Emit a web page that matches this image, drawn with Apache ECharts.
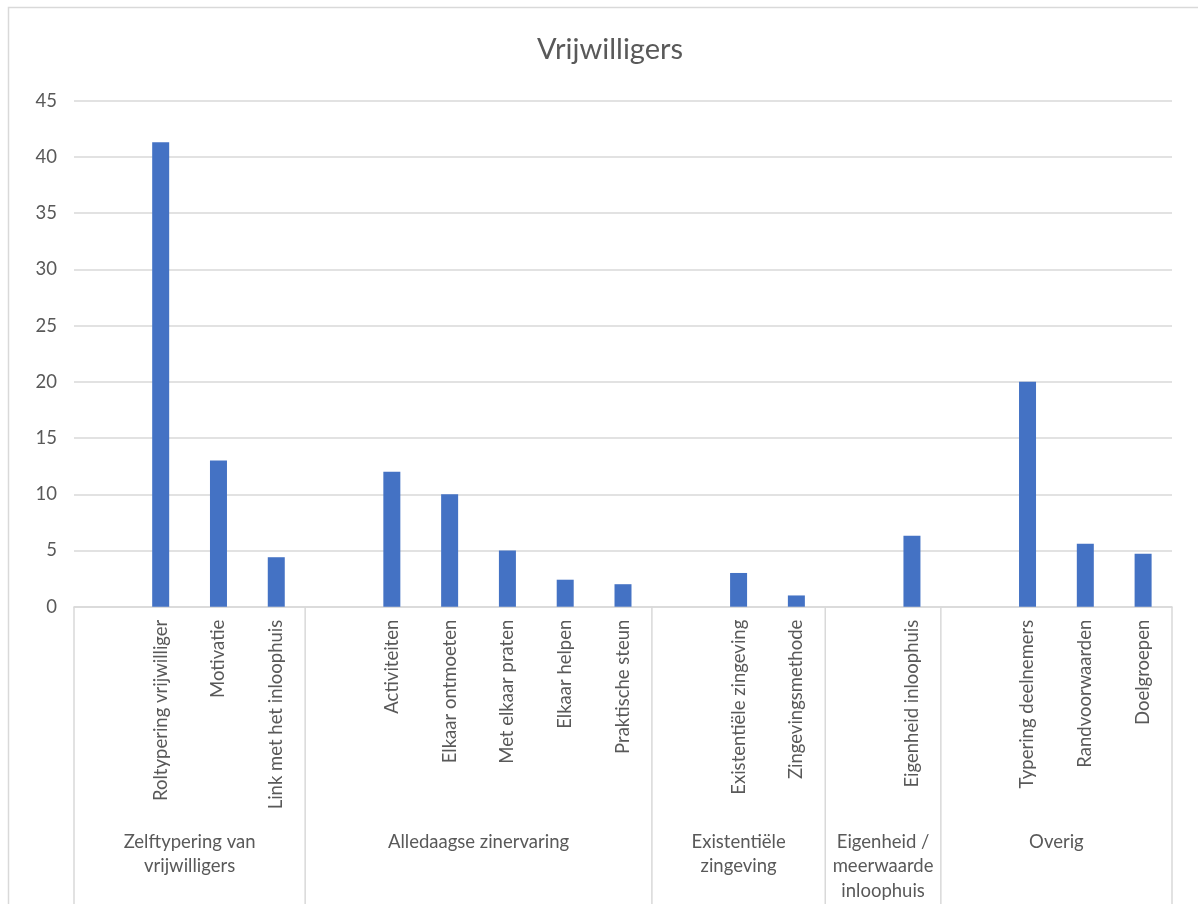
<!DOCTYPE html>
<html>
<head>
<meta charset="utf-8">
<script src="https://cdn.jsdelivr.net/npm/echarts@6/dist/echarts.min.js"></script>
<style>
html,body{margin:0;padding:0;background:#fff;}
#chart{width:1198px;height:904px;}
</style>
</head>
<body>
<div id="chart"></div>
<script>
const titleText = 'Vrijwilligers';
const categories = [
  '', 'Roltypering vrijwilliger', 'Motivatie', 'Link met het inloophuis',
  '', 'Activiteiten', 'Elkaar ontmoeten', 'Met elkaar praten', 'Elkaar helpen', 'Praktische steun',
  '', 'Existentiële zingeving', 'Zingevingsmethode',
  '', 'Eigenheid inloophuis',
  '', 'Typering deelnemers', 'Randvoorwaarden', 'Doelgroepen'
];
const values = [
  null, 41.3, 13, 4.4,
  null, 12, 10, 5, 2.4, 2,
  null, 3, 1,
  null, 6.3,
  null, 20, 5.6, 4.7
];
const groupNames = [
  'Zelftypering van\nvrijwilligers',
  'Alledaagse zinervaring',
  'Existentiële\nzingeving',
  'Eigenheid /\nmeerwaarde\ninloophuis',
  'Overig'
];
const groupSizes = [4, 6, 3, 2, 4];
const yTicks = { min: 0, max: 45, interval: 5 };

const FONT = 'Lato, "Open Sans", sans-serif';
const TXT = '#595959';
const LINE = '#d9d9d9';

// group ranges [startIndex, endIndex]
const groupData = [];
let s = 0;
groupSizes.forEach((n, i) => {
  groupData.push({ value: [s, s + n - 1, 0], name: groupNames[i] });
  s += n;
});

const chart = echarts.init(document.getElementById('chart'), null, { renderer: 'canvas' });
chart.setOption({
  animation: false,
  backgroundColor: '#fff',
  graphic: [{
    type: 'rect', shape: { x: 8.5, y: 7.5, width: 1300, height: 1000 },
    style: { fill: 'none', stroke: LINE, lineWidth: 1.5 }, silent: true, z: -10
  }],
  title: {
    text: titleText, left: 605, textAlign: 'center', top: 30,
    textStyle: { fontFamily: FONT, fontSize: 29, fontWeight: 'normal', color: TXT }
  },
  grid: { left: 74, right: 26, top: 100.7, bottom: 297.3, containLabel: false },
  xAxis: {
    type: 'category', data: categories,
    axisLine: { show: true, lineStyle: { color: LINE, width: 1.5 } },
    axisTick: { show: false },
    axisLabel: { interval: 0, rotate: 90, margin: 13, color: TXT, fontFamily: FONT, fontSize: 18.5 },
    splitLine: { show: false }
  },
  yAxis: {
    type: 'value', min: yTicks.min, max: yTicks.max, interval: yTicks.interval,
    axisLine: { show: false }, axisTick: { show: false },
    axisLabel: { margin: 17, color: TXT, fontFamily: FONT, fontSize: 18.5 },
    splitLine: { lineStyle: { color: LINE, width: 1.5 } }
  },
  series: [{
    type: 'bar', data: values, barWidth: 17,
    itemStyle: { color: '#4472c4' }
  }, {
    type: 'custom', clip: false, silent: true, data: groupData,
    encode: { x: [0, 1], y: 2 },
    renderItem: function (params, api) {
      const bw = api.size([1, 0])[0];
      const x0 = api.coord([api.value(0), 0])[0] - bw / 2;
      const x1 = api.coord([api.value(1), 0])[0] + bw / 2;
      const y0 = api.coord([0, 0])[1];
      const children = [{
        type: 'line', shape: { x1: x0, y1: y0, x2: x0, y2: y0 + 400 },
        style: { stroke: LINE, lineWidth: 1.5 }
      }, {
        type: 'text',
        style: {
          text: groupNames[params.dataIndex], x: (x0 + x1) / 2, y: y0 + 223,
          align: 'center', verticalAlign: 'top', fill: TXT,
          font: '18.5px ' + FONT, lineHeight: 24.5
        }
      }];
      if (params.dataIndex === groupSizes.length - 1) {
        children.push({
          type: 'line', shape: { x1: x1, y1: y0, x2: x1, y2: y0 + 400 },
          style: { stroke: LINE, lineWidth: 1.5 }
        });
      }
      return { type: 'group', children: children };
    }
  }]
});
</script>
</body>
</html>
